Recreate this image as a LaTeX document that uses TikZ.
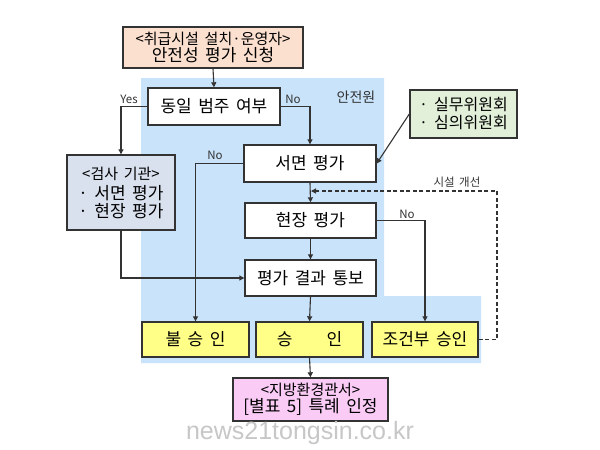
\documentclass[tikz,border=0pt]{standalone}
\usepackage{fontspec}
\setmainfont[WordSpace=1.7]{Noto Sans CJK KR}
\newfontfamily\wm{Liberation Sans}
\usetikzlibrary{arrows.meta}
\definecolor{peach}{HTML}{FBE0CF}
\definecolor{zone}{HTML}{C9E3FA}
\definecolor{grayblue}{HTML}{D9E0EE}
\definecolor{lgreen}{HTML}{E2F0D9}
\definecolor{yel}{HTML}{FFFF88}
\definecolor{pink}{HTML}{F9CBF5}
\definecolor{edge}{HTML}{333333}
\tikzset{
  box/.style={draw=edge, line width=1.4pt, inner sep=0pt, align=center, font=\fontsize{17}{19}\selectfont},
  conn/.style={draw=edge, line width=1.1pt, -{Triangle[length=5pt,width=5pt]}},
  lbl/.style={font=\fontsize{11.5}{12}\selectfont, text=edge, inner sep=1pt},
}
\newcommand{\subline}{\fontsize{15}{16}\selectfont}
\begin{document}
\begin{tikzpicture}[x=1pt,y=-1pt]
\useasboundingbox (0,0) rectangle (600,450);
\fill[white] (0,0) rectangle (600,450);
% safety zone
\fill[zone] (141,78) -- (384,78) -- (384,296) -- (481,296) -- (481,363) -- (141,363) -- cycle;
\node[font=\fontsize{14}{16}\selectfont, text=edge] (zlabel) at (356,97) {안전원};
% nodes
\node[box, fill=peach, minimum width=180pt, minimum height=41pt] (top) at (213,47.5)
  {{\subline <취급시설 설치·운영자>}\\[-2pt]안전성 평가 신청};
\node[box, fill=white, minimum width=132pt, minimum height=37pt] (dong) at (214,106.5) {동일 범주 여부};
\node[box, fill=grayblue, minimum width=108pt, minimum height=75pt] (geomsa) at (121,192.5)
  {{\subline <검사 기관>}\\[1pt]· 서면 평가\\[-1pt]· 현장 평가};
\node[box, fill=white, minimum width=132pt, minimum height=37pt] (seomyeon) at (310,163.5) {서면 평가};
\node[box, fill=white, minimum width=131pt, minimum height=35pt] (hyeon) at (310.5,220.5) {현장 평가};
\node[box, fill=white, minimum width=131pt, minimum height=36pt] (result) at (310.5,278) {평가 결과 통보};
\node[box, fill=yel, minimum width=107pt, minimum height=35pt] (bul) at (195.5,339.5) {불 승 인};
\node[box, fill=yel, minimum width=107pt, minimum height=35pt] (seung) at (309.5,339.5) {승\hspace{2em}인};
\node[box, fill=yel, minimum width=106pt, minimum height=35pt] (jogeon) at (425,339.5) {조건부 승인};
\node[box, fill=lgreen, minimum width=107pt, minimum height=48pt, font=\fontsize{16}{18}\selectfont] (comm) at (463.5,114)
  {· 실무위원회\\· 심의위원회};
\node[box, fill=pink, minimum width=155pt, minimum height=43pt] (jibang) at (310.5,399.5)
  {{\subline <지방환경관서>}\\[-2pt][별표 5] 특례 인정};
% connectors
\draw[conn] (top.south) -- (dong.north);
\draw[conn] (dong.west) -| (geomsa.north);
\draw[conn] (dong.east) -| (seomyeon.north);
\draw[conn] (seomyeon.west) -| (bul.north);
\draw[conn] (seomyeon.south) -- (hyeon.north);
\draw[conn] (hyeon.south) -- (result.north);
\draw[conn] (geomsa.south) |- (result.west);
\draw[conn] (result.south) -- (seung.north);
\draw[conn] (hyeon.east) -| (jogeon.north);
\draw[conn] (comm.west) -- (seomyeon.east);
\draw[conn] (seung.south) -- (jibang.north);
\coordinate (fbc) at (497,191);
\coordinate (fb) at (311,191);
\draw[conn, dash pattern=on 4pt off 2.5pt] (jogeon.east) -| (fbc) -- (fb);
% labels
\node[lbl] (yes) at (129,99) {Yes};
\node[lbl] (no1) at (293,99) {No};
\node[lbl] (no2) at (215,155) {No};
\node[lbl] (no3) at (407,214) {No};
\node[lbl] (fix) at (457,182) {시설 개선};
% watermark
\node[font=\wm\fontsize{25}{28}\selectfont, text=black!22, inner sep=0pt] (mark) at (300,433) {news21tongsin.co.kr};
\end{tikzpicture}
\end{document}
